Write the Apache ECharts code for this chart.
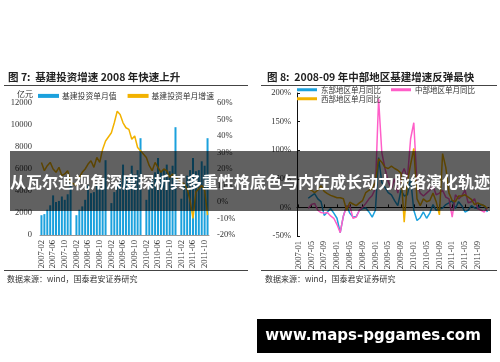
<!DOCTYPE html>
<html><head><meta charset="utf-8">
<script src="https://cdn.jsdelivr.net/npm/echarts@6/dist/echarts.min.js"></script>
<style>html,body{margin:0;padding:0;background:#fff}#c{width:500px;height:362px}</style>
</head><body><div id="c"></div>
<script>
// ---------- data: left chart (图7) ----------
function months(y0, m0, y1, m1) { // month labels only
  var out = [];
  for (var y = y0, m = m0; y < y1 || (y === y1 && m <= m1); ) {
    out.push(y + '-' + (m < 10 ? '0' + m : m));
    m++; if (m > 12) { m = 1; y++; }
  }
  return out;
}
var leftCategories = months(2007, 2, 2011, 11);
var leftBarName = '基建投资单月值';
var leftLineName = '基建投资单月增速';
var leftBarValues = [
  1800,1900,2300,2700,3600,3000,3100,3500,3200,3700,4700,
  null,1800,2300,2600,3200,4500,3800,3900,4600,4200,4700,6800,
  null,2900,3900,4400,4900,6400,5300,5400,6300,5500,5900,8800,
  null,3200,4500,5100,5700,7000,5800,5900,6400,5800,6300,9800,
  null,3300,4700,5400,5900,7000,5800,5900,6700,6300,8800
];
var leftLineValues = [
  24,19,22,24,20,18,21,16,17,19,12,
  null,10,15,18,20,23,25,21,27,24,32,37,
  null,42,48,55,53,48,45,44,38,40,33,31,
  null,27,22,19,24,21,18,20,19,15,17,15,
  null,12,11,8,1,-10,6,8,10,7,-8
];
var leftAxisName = '亿元';

// ---------- data: right chart (图8) ----------
var rightCategories = months(2007, 1, 2011, 12);
var eastName = '东部地区单月同比';
var centralName = '中部地区单月同比';
var westName = '西部地区单月同比';
var eastValues = [null,null,null,16,20,24,15,10,-14,-8,-2,-10,-19,-44,-15,3,-10,-17,-16,-5,-2,-1,-8,-17,-5,87,44,35,26,22,12,3,30,20,22,50,-5,-23,-18,-8,-19,-10,5,-5,-3,-1,5,8,12,-2,10,3,-8,-5,3,-1,-2,5,3,-8];
var centralValues = [null,null,null,-2,5,7,-5,-9,-10,-9,-15,-19,-30,-44,-15,2,3,-19,-17,-5,0,7,15,21,33,190,96,68,45,33,50,25,55,68,50,120,148,40,25,20,25,30,38,22,25,30,18,15,-17,22,15,20,30,8,10,15,-2,-5,-8,0];
var westValues = [null,null,null,33,30,26,30,38,28,24,21,19,17,17,15,-5,9,6,3,8,12,26,30,33,44,85,79,70,68,72,68,65,60,-26,45,75,103,15,3,15,10,12,25,10,-13,94,70,25,12,10,20,20,22,18,14,5,8,5,3,-2];

// ---------- texts ----------
var title7 = '图 7:  基建投资增速 2008 年快速上升';
var title8 = '图 8:  2008-09 年中部地区基建增速反弹最快';
var sourceText = '数据来源：wind，国泰君安证券研究';
var bannerText = '从瓦尔迪视角深度探析其多重性格底色与内在成长动力脉络演化轨迹';
var watermarkText = 'www.maps-pggames.com';

var C_BLUE = '#1ba1dd', C_ORANGE = '#f2b200', C_PINK = '#ff5ec8';
var SERIF = '"Liberation Serif", "Times New Roman", serif';
var CJK = '"Noto Sans CJK SC", sans-serif';
var axisLbl = {fontSize: 8.5, fontFamily: SERIF, color: '#333'};

var chart = echarts.init(document.getElementById('c'));
chart.setOption({
  animation: false,
  backgroundColor: '#fff',
  grid: [
    {left: 40, top: 103, width: 169, height: 132},
    {left: 297, top: 93, width: 192, height: 143}
  ],
  legend: [
    {data: [leftBarName, leftLineName], left: 38, top: 92, padding: 0, itemWidth: 21, itemHeight: 4, itemGap: 11,
     icon: 'rect', textStyle: {fontSize: 7.8, fontFamily: CJK, color: '#333', padding: [0, 0, 0, -2]}},
    {data: [eastName, centralName], left: 297, top: 86, padding: 0, itemWidth: 20, itemHeight: 3, itemGap: 10,
     icon: 'rect', textStyle: {fontSize: 7.5, fontFamily: CJK, color: '#333', padding: [0, 0, 0, -1]}},
    {data: [westName], left: 297, top: 95, padding: 0, itemWidth: 20, itemHeight: 3,
     icon: 'rect', textStyle: {fontSize: 7.5, fontFamily: CJK, color: '#333', padding: [0, 0, 0, -1]}}
  ],
  xAxis: [
    {gridIndex: 0, type: 'category', data: leftCategories,
     axisLine: {lineStyle: {color: '#999', width: 1}}, axisTick: {show: false},
     axisLabel: Object.assign({interval: 3, rotate: 90, margin: 5}, axisLbl)},
    {gridIndex: 1, type: 'category', data: rightCategories, position: 'bottom',
     axisLine: {show: false, onZero: false}, axisTick: {show: false},
     axisLabel: Object.assign({interval: 3, rotate: 90, margin: 5}, axisLbl)},
    {gridIndex: 1, type: 'category', data: rightCategories, position: 'bottom',
     axisLine: {show: true, onZero: true, lineStyle: {color: '#111', width: 1}},
     axisTick: {show: true, inside: true, length: 3, interval: 3, alignWithLabel: true, lineStyle: {color: '#111'}},
     axisLabel: {show: false}}
  ],
  yAxis: [
    {gridIndex: 0, type: 'value', min: 0, max: 12000, interval: 2000,
     axisLine: {show: false}, axisTick: {show: false}, splitLine: {show: false},
     axisLabel: Object.assign({margin: 8, formatter: function (v) { return String(v); }}, axisLbl)},
    {gridIndex: 0, type: 'value', position: 'right', min: -20, max: 60, interval: 10,
     axisLine: {show: false}, axisTick: {show: false}, splitLine: {show: false},
     axisLabel: Object.assign({margin: 8, formatter: '{value}%'}, axisLbl)},
    {gridIndex: 1, type: 'value', min: -50, max: 200, interval: 50,
     axisLine: {show: true, lineStyle: {color: '#111', width: 1}},
     axisTick: {show: true, inside: true, length: 3, lineStyle: {color: '#111'}},
     splitLine: {show: false},
     axisLabel: Object.assign({margin: 6, formatter: '{value}%'}, axisLbl)}
  ],
  series: [
    {name: leftBarName, type: 'bar', xAxisIndex: 0, yAxisIndex: 0, data: leftBarValues,
     barWidth: 2, itemStyle: {color: C_BLUE}},
    {name: leftLineName, type: 'line', xAxisIndex: 0, yAxisIndex: 1, data: leftLineValues,
     showSymbol: false, connectNulls: true, lineStyle: {color: C_ORANGE, width: 1.5}, itemStyle: {color: C_ORANGE}},
    {name: eastName, type: 'line', xAxisIndex: 2, yAxisIndex: 2, data: eastValues,
     showSymbol: false, lineStyle: {color: C_BLUE, width: 1.5}, itemStyle: {color: C_BLUE}},
    {name: centralName, type: 'line', xAxisIndex: 2, yAxisIndex: 2, data: centralValues,
     showSymbol: false, lineStyle: {color: C_PINK, width: 1.5}, itemStyle: {color: C_PINK}},
    {name: westName, type: 'line', xAxisIndex: 2, yAxisIndex: 2, data: westValues,
     showSymbol: false, lineStyle: {color: C_ORANGE, width: 1.5}, itemStyle: {color: C_ORANGE}}
  ],
  graphic: [
    {type: 'text', x: 8, y: 77, style: {text: title7, font: 'bold 10.5px ' + CJK, fill: '#222', verticalAlign: 'middle'}},
    {type: 'text', x: 267, y: 77, style: {text: title8, font: 'bold 10.5px ' + CJK, fill: '#222', verticalAlign: 'middle'}},
    {type: 'line', shape: {x1: 4, y1: 85.5, x2: 248, y2: 85.5}, style: {stroke: '#444', lineWidth: 1}},
    {type: 'line', shape: {x1: 261, y1: 85.5, x2: 497, y2: 85.5}, style: {stroke: '#444', lineWidth: 1}},
    {type: 'line', shape: {x1: 4, y1: 270.5, x2: 248, y2: 270.5}, style: {stroke: '#444', lineWidth: 1}},
    {type: 'line', shape: {x1: 261, y1: 270.5, x2: 497, y2: 270.5}, style: {stroke: '#444', lineWidth: 1}},
    {type: 'text', x: 25, y: 94, style: {text: leftAxisName, font: '8px ' + CJK, fill: '#333', align: 'center', verticalAlign: 'middle'}},
    {type: 'text', x: 7, y: 279, style: {text: sourceText, font: '8px ' + CJK, fill: '#333', verticalAlign: 'middle'}},
    {type: 'text', x: 265, y: 279, style: {text: sourceText, font: '8px ' + CJK, fill: '#333', verticalAlign: 'middle'}},
    {type: 'rect', z: 100, shape: {x: 10, y: 151, width: 480, height: 60}, style: {fill: 'rgba(0,0,0,0.62)'}},
    {type: 'text', z: 101, x: 250, y: 182, style: {text: bannerText, font: 'bold 16px ' + CJK, fill: '#fff', align: 'center', verticalAlign: 'middle'}},
    {type: 'rect', z: 100, shape: {x: 257, y: 319, width: 234, height: 34}, style: {fill: '#000'}},
    {type: 'text', z: 101, x: 373, y: 336, style: {text: watermarkText, font: 'bold 15px "DejaVu Sans", sans-serif', fill: '#fff', align: 'center', verticalAlign: 'middle'}}
  ]
});
</script>
</body></html>
